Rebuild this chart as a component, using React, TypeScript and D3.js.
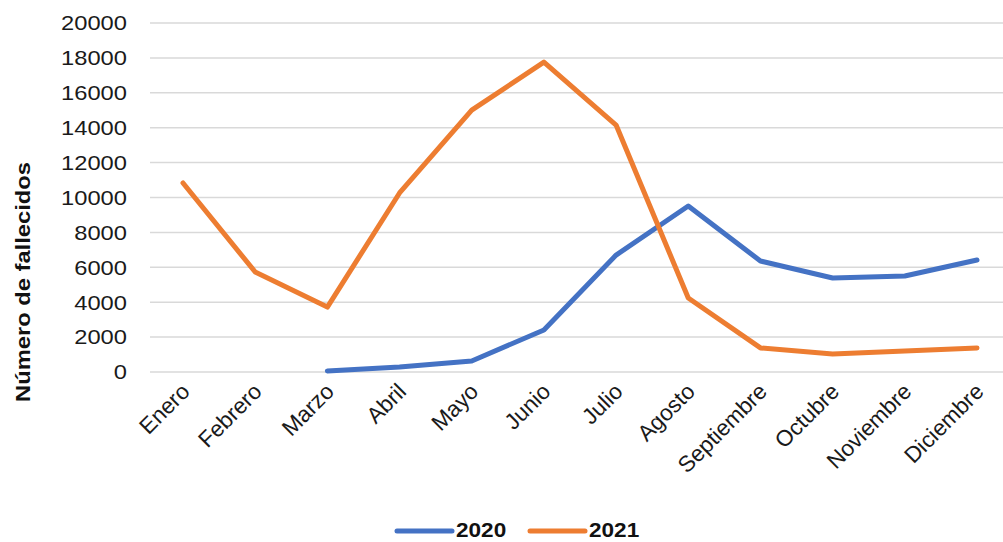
import * as d3 from "d3";

const months = [
  "Enero", "Febrero", "Marzo", "Abril", "Mayo", "Junio",
  "Julio", "Agosto", "Septiembre", "Octubre", "Noviembre", "Diciembre",
];

// 2020 starts in March
const values2020 = [null, null, 60, 290, 630, 2410, 6700, 9510, 6360, 5390, 5500, 6420];
const values2021 = [10830, 5730, 3720, 10260, 15010, 17760, 14150, 4240, 1380, 1030, 1200, 1380];

const yTicks = [0, 2000, 4000, 6000, 8000, 10000, 12000, 14000, 16000, 18000, 20000];

const seriesNames = ["2020", "2021"];
const seriesColors = ["#4472C4", "#ED7D31"];

export default function App() {
  const width = 1003;
  const height = 542;
  // the reference text looks a bit wider than plain Arial
  const stretch = 1.13;

  const x = d3.scalePoint<string>().domain(months).range([183, 977]);
  const y = d3.scaleLinear().domain([0, 20000]).range([372, 23]);

  const series = [values2020, values2021].map((vals, i) => ({
    name: seriesNames[i],
    color: seriesColors[i],
    values: months.map((m, j) => ({ month: m, value: vals[j] })),
  }));

  const line = d3
    .line<{ month: string; value: number | null }>()
    .defined(d => d.value !== null)
    .x(d => x(d.month) as number)
    .y(d => y(d.value as number));

  const font = "Liberation Sans, Arial, sans-serif";

  return (
    <div style={{ position: "absolute", left: 0, top: 0 }}>
      <svg width={width} height={height} style={{ display: "block", background: "#fff" }}>
        {yTicks.map(t => (
          <g key={t} transform={`translate(0,${y(t)})`}>
            <line x1={150} x2={width} stroke="#d9d9d9" strokeWidth={1.5} />
            <text
              transform={`translate(127,0) scale(${stretch},1)`}
              dy="0.35em"
              textAnchor="end"
              fontFamily={font}
              fontSize={21}
              fill="#1a1a1a"
            >
              {t}
            </text>
          </g>
        ))}

        <text
          transform={`translate(30,282) rotate(-90) scale(${stretch},1)`}
          textAnchor="middle"
          fontFamily={font}
          fontSize={21}
          fontWeight="bold"
          fill="#111"
        >
          Número de fallecidos
        </text>

        {months.map(m => (
          <text
            key={m}
            transform={`translate(${(x(m) as number) + 8},${393}) rotate(-45)`}
            textAnchor="end"
            fontFamily={font}
            fontSize={22.5}
            fill="#1a1a1a"
          >
            {m}
          </text>
        ))}

        {series.map(s => (
          <path
            key={s.name}
            d={line(s.values) ?? ""}
            fill="none"
            stroke={s.color}
            strokeWidth={5}
            strokeLinejoin="round"
            strokeLinecap="round"
          />
        ))}

        {series.map((s, i) => {
          const lx = 397 + i * 133;
          return (
            <g key={s.name}>
              <line
                x1={lx}
                x2={lx + 55}
                y1={531}
                y2={531}
                stroke={s.color}
                strokeWidth={5}
                strokeLinecap="round"
              />
              <text
                transform={`translate(${lx + 59},537) scale(${stretch},1)`}
                fontFamily={font}
                fontSize={20}
                fontWeight="bold"
                fill="#111"
              >
                {s.name}
              </text>
            </g>
          );
        })}
      </svg>
    </div>
  );
}
